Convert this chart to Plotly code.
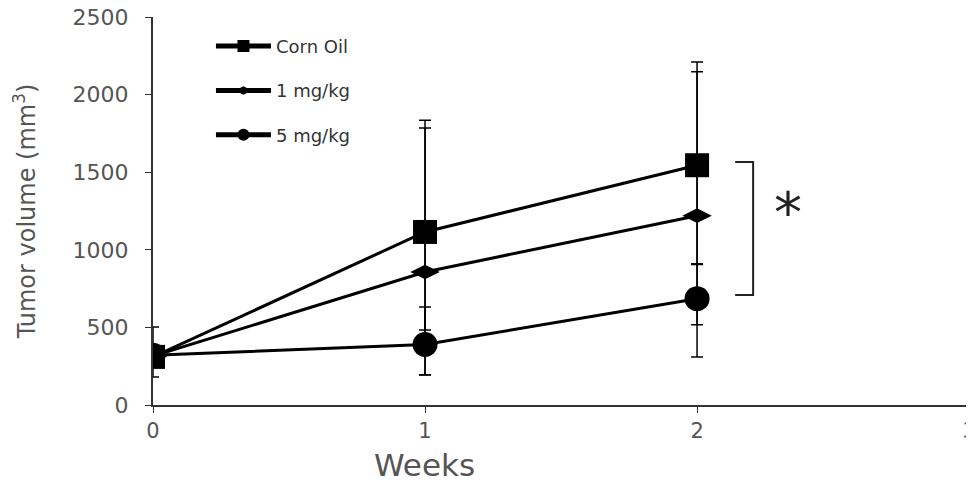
import plotly.graph_objects as go

weeks = [0, 1, 2]
series_names = ["Corn Oil", "1 mg/kg", "5 mg/kg"]
corn_oil = [310, 1115, 1545]
mg1 = [315, 857, 1220]
mg5 = [320, 390, 685]
corn_oil_err_plus = [193, 720, 665]
corn_oil_err_minus = [130, 632, 640]
mg1_err_plus = [60, 928, 928]
mg1_err_minus = [60, 664, 910]
mg5_err_plus = [60, 241, 225]
mg5_err_minus = [60, 195, 168]
y_ticks = [0, 500, 1000, 1500, 2000, 2500]
x_ticks = [0, 1, 2, 3]
bracket_x = [2.14, 2.206, 2.206, 2.14]
bracket_y = [1566, 1566, 709, 709]
sig_label = "*"
x_title = "Weeks"
y_title = "Tumor volume (mm<sup>3</sup>)"

FONT = "DejaVu Sans"
fig = go.Figure()

specs = [
    (corn_oil, corn_oil_err_plus, corn_oil_err_minus, "square", 24),
    (mg1, mg1_err_plus, mg1_err_minus, "diamond-wide", 21),
    (mg5, mg5_err_plus, mg5_err_minus, "circle", 25),
]
for i, (vals, ep, em, sym, sz) in enumerate(specs):
    fig.add_trace(go.Scatter(
        x=weeks, y=vals, mode="lines+markers", name=series_names[i],
        legendgroup=f"g{i}",
        line=dict(color="black", width=3),
        marker=dict(symbol=sym, size=sz, color="black"),
        error_y=dict(type="data", symmetric=False, array=ep, arrayminus=em,
                     color="black", thickness=1.5, width=6),
        showlegend=True,
    ))

fig.add_trace(go.Scatter(
    x=bracket_x, y=bracket_y, mode="lines",
    line=dict(color="#222", width=2), showlegend=False, hoverinfo="skip",
))

fig.add_annotation(x=2.335, y=1243, text=sig_label, showarrow=False,
                   font=dict(family=FONT, size=56, color="#222"),
                   xanchor="center", yanchor="middle")

fig.add_annotation(xref="paper", yref="paper", x=0.331, y=-0.155, text=x_title,
                   showarrow=False, xanchor="center", yanchor="middle",
                   font=dict(family=FONT, size=31, color="#555"))

fig.update_layout(
    width=974, height=482,
    margin=dict(l=145, r=8, t=9, b=85),
    paper_bgcolor="white", plot_bgcolor="white",
    font=dict(family=FONT, color="#444"),
    showlegend=True,
    legend=dict(
        x=0.0706, y=0.972, xanchor="left", yanchor="top",
        traceorder="grouped", tracegroupgap=18,
        itemsizing="constant", itemwidth=55,
        font=dict(family=FONT, size=18, color="#333"),
        bgcolor="rgba(0,0,0,0)",
    ),
    xaxis=dict(
        range=[0, 3.018], tickvals=x_ticks, ticktext=[str(t) for t in x_ticks],
        showgrid=False, zeroline=False, showline=True, linecolor="#333",
        linewidth=2, ticks="outside", ticklen=6, tickcolor="#333",
        tickfont=dict(family=FONT, size=21, color="#555"),
        automargin=False, ticklabeloverflow="allow",
    ),
    yaxis=dict(
        range=[0, 2500], tickvals=y_ticks,
        showgrid=False, zeroline=False, showline=True, linecolor="#333",
        linewidth=2, ticks="outside", ticklen=6, tickcolor="#333",
        tickfont=dict(family=FONT, size=22, color="#555"),
        ticklabelstandoff=12, automargin=False, ticklabeloverflow="allow",
        title=dict(text=y_title, font=dict(family=FONT, size=24, color="#555"), standoff=30),
    ),
)

fig.write_html("out.html")
